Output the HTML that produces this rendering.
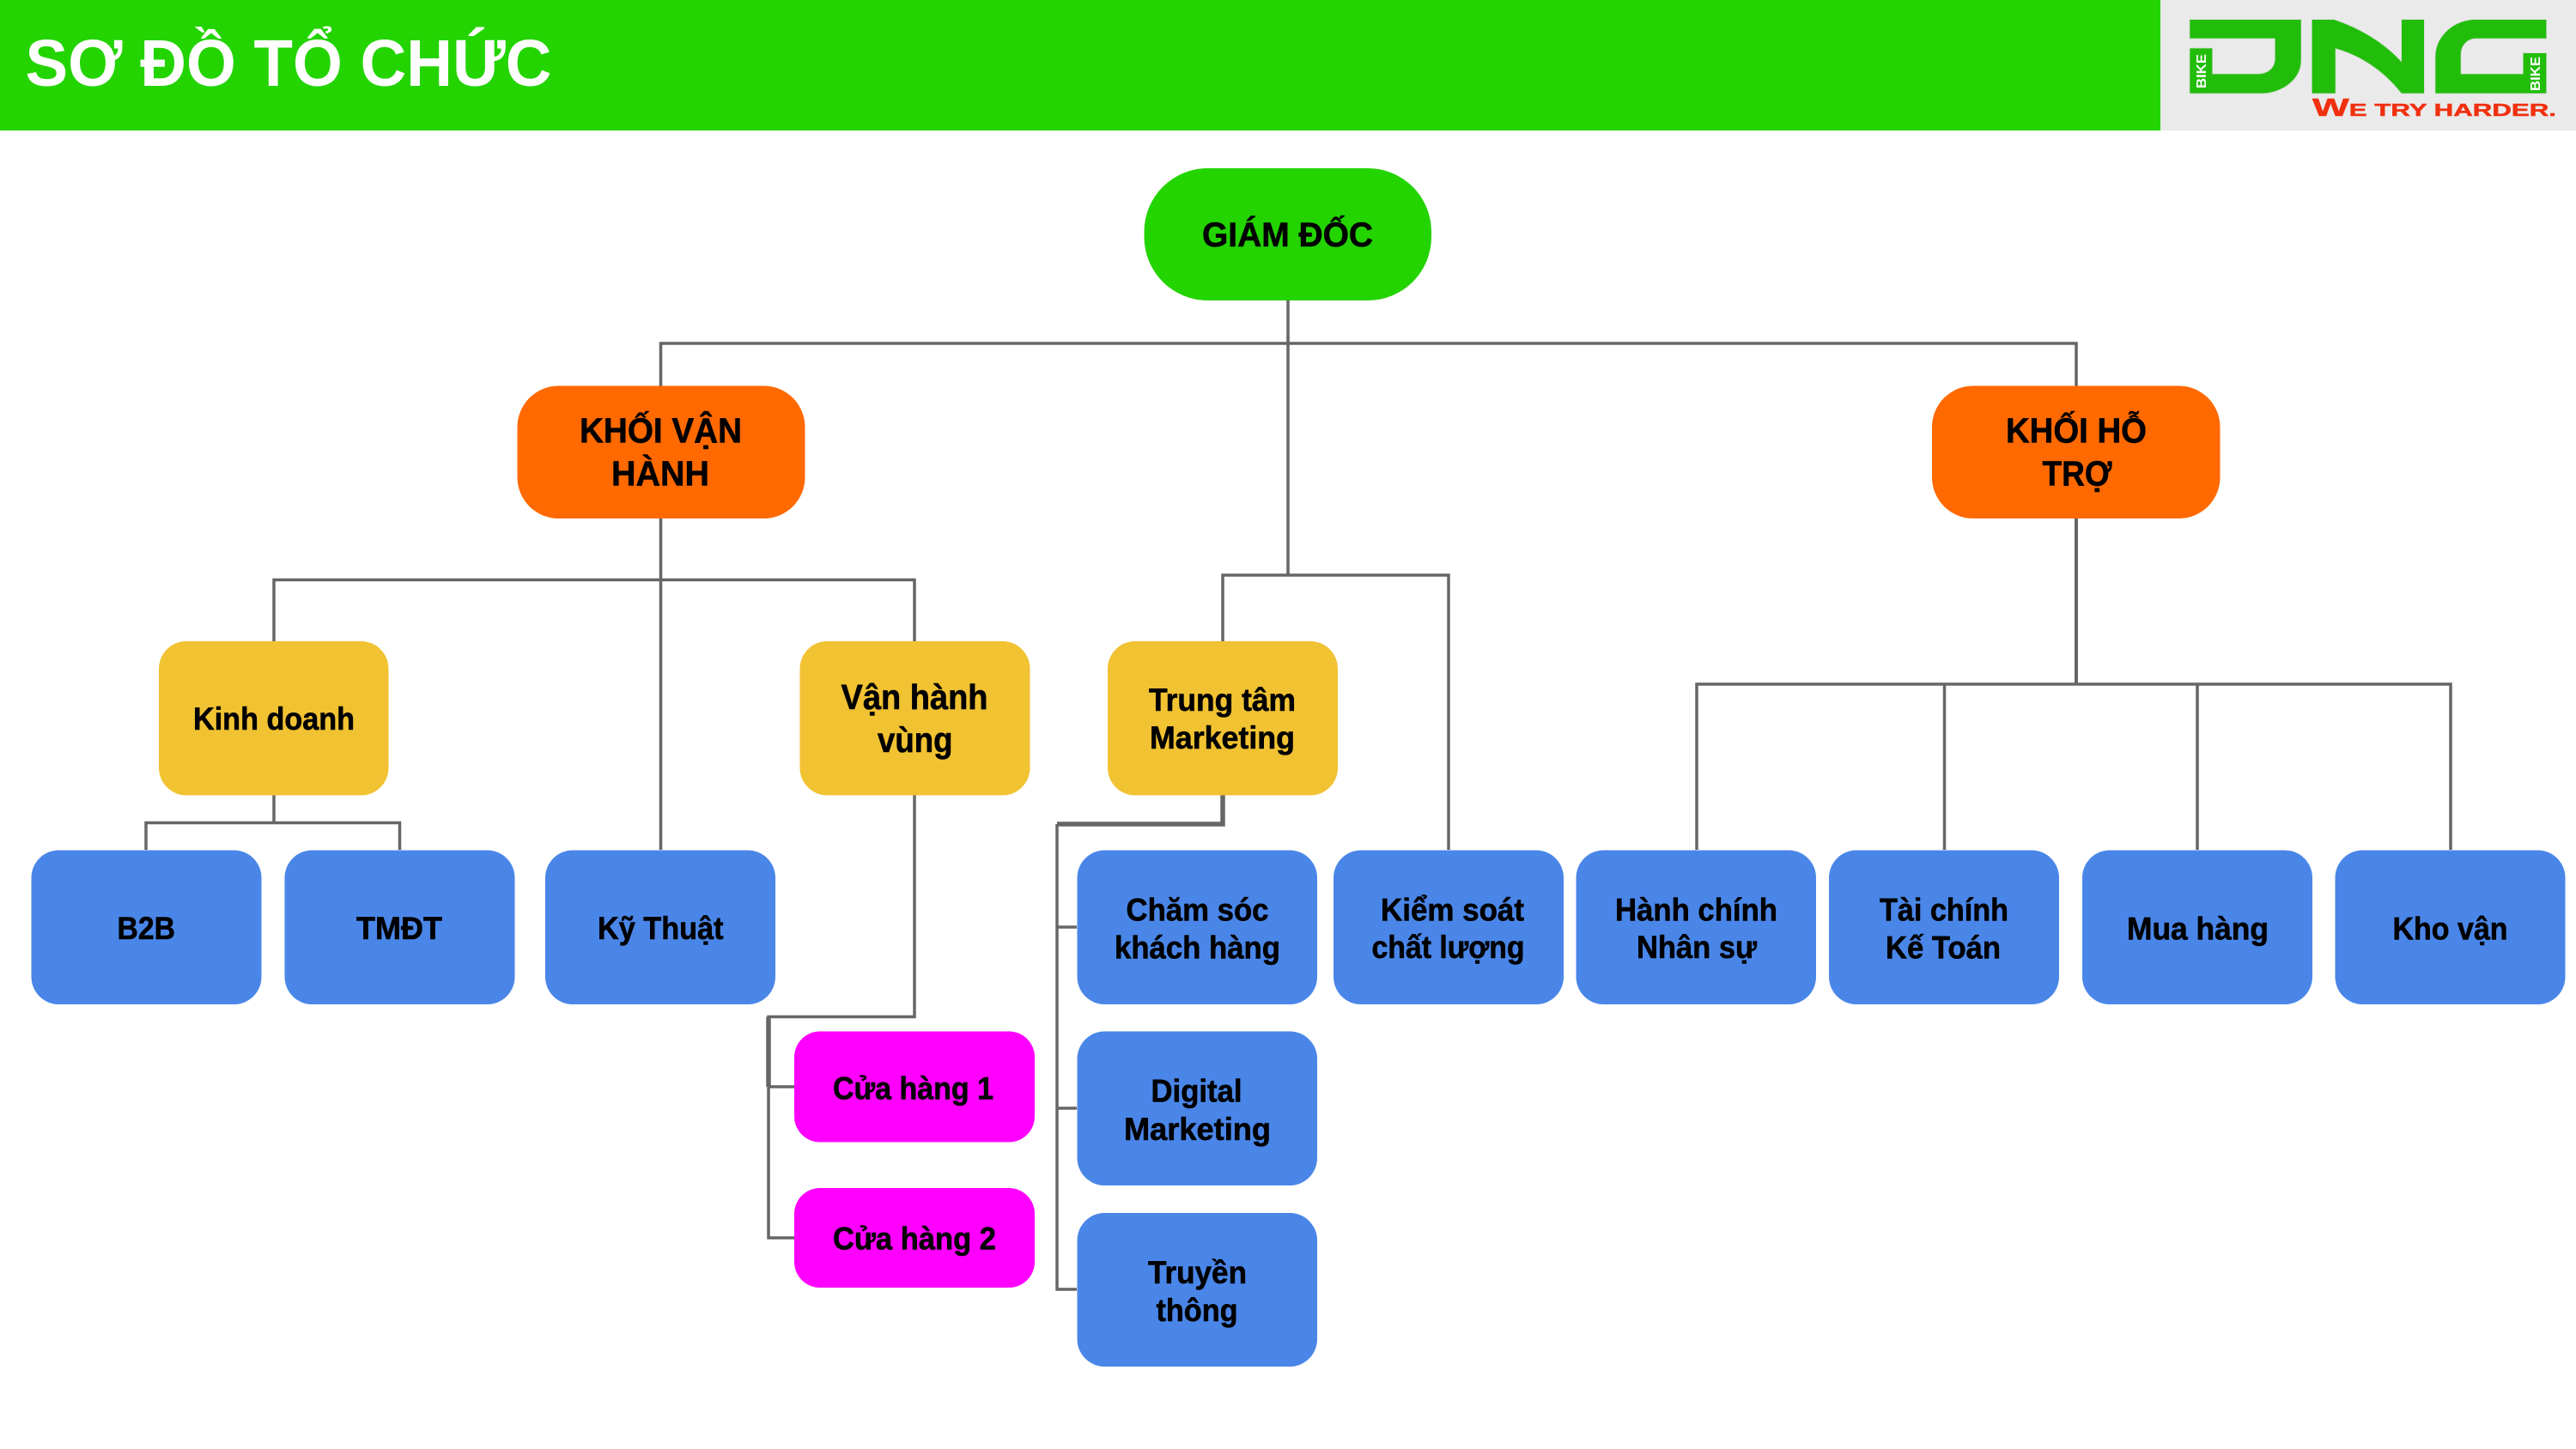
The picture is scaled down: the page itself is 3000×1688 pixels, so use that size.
<!DOCTYPE html>
<html lang="vi">
<head>
<meta charset="utf-8">
<title>Sơ đồ tổ chức</title>
<style>
html,body{margin:0;padding:0;background:#fff;width:3000px;height:1688px;overflow:hidden}
svg{display:block}
text{font-family:"Liberation Sans",sans-serif;font-weight:700;fill:#000;font-size:37px}
.n text{stroke:#000;stroke-width:.6}
.l{fill:none;stroke:#666;stroke-width:3.5}
.t{stroke:#666;stroke-width:5.5;fill:none}
</style>
</head>
<body>
<svg xmlns="http://www.w3.org/2000/svg" width="3000" height="1688" viewBox="0 0 3000 1688">
<rect width="3000" height="1688" fill="#fff"/>
<rect x="0" y="0" width="2516" height="152" fill="#23d401"/>
<rect x="2516" y="0" width="484" height="152" fill="#eaeaea"/>
<text x="29.500" y="100" textLength="613" lengthAdjust="spacingAndGlyphs" style="font-size:77px;fill:#fff">SƠ ĐỒ TỔ CHỨC</text>

<!-- logo -->
<g transform="translate(2500,0) scale(0.33333)" fill="#22bd0b" stroke="#cfd8cf" stroke-width="2">
<path d="M150 68H540V210C540 280 470 327 400 327H150V168H230V258H390C425 258 448 235 448 205V135H150Z"/>
<path d="M577 68H655C750 100 830 150 890 215V68H970V327H890C830 250 750 195 660 170V327H577Z"/>
<path d="M1397 68H1140C1060 75 1008 135 1008 200V327H1397V185H1315V258H1098V190C1098 160 1120 135 1150 135H1397Z"/>
</g>
<text transform="translate(2569,103) rotate(-90)" textLength="40" lengthAdjust="spacingAndGlyphs" style="font-size:16px;fill:#fff">BIKE</text>
<text transform="translate(2958,106) rotate(-90)" textLength="40" lengthAdjust="spacingAndGlyphs" style="font-size:16px;fill:#fff">BIKE</text>
<text x="2693" y="135" textLength="284" lengthAdjust="spacingAndGlyphs" style="font-size:20px;fill:#f0300f;stroke:#f0300f;stroke-width:.5"><tspan style="font-size:29px">W</tspan>E TRY HARDER.</text>

<!-- connectors -->
<path class="l" d="M1500 350V670"/>
<path class="l" d="M769.5 450V400H2418V450"/>
<path class="l" d="M1424 747V670H1687V990"/>
<path class="l" d="M769.5 604V990"/>
<path class="l" d="M319 747V675.5H1065V747"/>
<path class="l" d="M319 926V958.5"/>
<path class="l" d="M170 990V958.5H465.5V990"/>
<path class="l" d="M1065 926V1184.5H895V1442H925"/>
<path class="t" d="M895 1184.5V1266"/>
<path class="l" d="M895 1266H925"/>
<path class="t" d="M1424 926V960H1231"/>
<path class="l" d="M1231 960V1502H1254"/>
<path class="l" d="M1231 1080H1254M1231 1291H1254"/>
<path class="t" d="M2418 604V797" style="stroke-width:4"/>
<path class="l" d="M1976 990V797H2854V990"/>
<path class="l" d="M2264.5 797V990M2559 797V990"/>

<!-- nodes -->
<rect x="1332.500" y="196" width="334.500" height="154" rx="74" fill="#23d401"/>
<rect x="602.5" y="449.5" width="335" height="154.500" rx="48" fill="#ff6900"/>
<rect x="2250" y="449.500" width="335.500" height="154.500" rx="48" fill="#ff6900"/>

<rect x="185" y="747" width="267.500" height="179.500" rx="32" fill="#f1c232"/>
<rect x="931.500" y="747" width="268" height="179.500" rx="32" fill="#f1c232"/>
<rect x="1290" y="747" width="268" height="179.500" rx="32" fill="#f1c232"/>

<g fill="#4a86e8">
<rect x="36.500" y="990.500" width="268" height="179.500" rx="32"/>
<rect x="331.500" y="990.500" width="268" height="179.500" rx="32"/>
<rect x="635" y="990.500" width="268" height="179.500" rx="32"/>
<rect x="1254.500" y="990.500" width="279.500" height="179.500" rx="32"/>
<rect x="1254.500" y="1201.500" width="279.500" height="179.500" rx="32"/>
<rect x="1254.500" y="1413" width="279.500" height="179" rx="32"/>
<rect x="1553" y="990.500" width="268" height="179.500" rx="32"/>
<rect x="1835.500" y="990.500" width="279.500" height="179.500" rx="32"/>
<rect x="2130" y="990.500" width="268" height="179.500" rx="32"/>
<rect x="2425" y="990.500" width="268" height="179.500" rx="32"/>
<rect x="2719.500" y="990.500" width="268" height="179.500" rx="32"/>
</g>
<rect x="925" y="1201.500" width="280" height="129" rx="30" fill="#ff00ff"/>
<rect x="925" y="1384" width="280" height="116" rx="30" fill="#ff00ff"/>

<!-- labels -->
<g class="n">
<text x="1400" y="287" textLength="199" lengthAdjust="spacingAndGlyphs" style="font-size:40px">GIÁM ĐỐC</text>
<text x="675" y="515.500" textLength="189" lengthAdjust="spacingAndGlyphs" style="font-size:41px">KHỐI VẬN</text>
<text x="712" y="565.500" textLength="114" lengthAdjust="spacingAndGlyphs" style="font-size:41px">HÀNH</text>
<text x="2336" y="515.500" textLength="164" lengthAdjust="spacingAndGlyphs" style="font-size:41px">KHỐI HỖ</text>
<text x="2378.500" y="565.500" textLength="81" lengthAdjust="spacingAndGlyphs" style="font-size:41px">TRỢ</text>

<text x="225" y="850" textLength="188" lengthAdjust="spacingAndGlyphs">Kinh doanh</text>
<text x="979.500" y="826" textLength="171" lengthAdjust="spacingAndGlyphs" style="font-size:41px">Vận hành</text>
<text x="1022" y="876" textLength="87.500" lengthAdjust="spacingAndGlyphs" style="font-size:41px">vùng</text>
<text x="1338" y="828" textLength="171" lengthAdjust="spacingAndGlyphs">Trung tâm</text>
<text x="1339" y="872" textLength="169" lengthAdjust="spacingAndGlyphs">Marketing</text>

<text x="136.500" y="1094" textLength="67.500" lengthAdjust="spacingAndGlyphs">B2B</text>
<text x="415" y="1094" textLength="100" lengthAdjust="spacingAndGlyphs">TMĐT</text>
<text x="696" y="1094" textLength="146.500" lengthAdjust="spacingAndGlyphs">Kỹ Thuật</text>

<text x="1311.500" y="1072.500" textLength="166" lengthAdjust="spacingAndGlyphs">Chăm sóc</text>
<text x="1298" y="1116.500" textLength="193" lengthAdjust="spacingAndGlyphs">khách hàng</text>
<text x="1340.500" y="1283.500" textLength="106" lengthAdjust="spacingAndGlyphs">Digital</text>
<text x="1309" y="1328" textLength="171" lengthAdjust="spacingAndGlyphs">Marketing</text>
<text x="1337" y="1495" textLength="115" lengthAdjust="spacingAndGlyphs">Truyền</text>
<text x="1346.500" y="1539" textLength="95" lengthAdjust="spacingAndGlyphs">thông</text>

<text x="970" y="1280.500" textLength="187" lengthAdjust="spacingAndGlyphs">Cửa hàng 1</text>
<text x="970" y="1455.500" textLength="190" lengthAdjust="spacingAndGlyphs">Cửa hàng 2</text>

<text x="1608" y="1072.500" textLength="167" lengthAdjust="spacingAndGlyphs">Kiểm soát</text>
<text x="1597.500" y="1116" textLength="178" lengthAdjust="spacingAndGlyphs">chất lượng</text>
<text x="1881" y="1072.500" textLength="189" lengthAdjust="spacingAndGlyphs">Hành chính</text>
<text x="1906" y="1116" textLength="140" lengthAdjust="spacingAndGlyphs">Nhân sự</text>
<text x="2189" y="1072.500" textLength="150" lengthAdjust="spacingAndGlyphs">Tài chính</text>
<text x="2196" y="1116.500" textLength="134" lengthAdjust="spacingAndGlyphs">Kế Toán</text>
<text x="2477" y="1094.500" textLength="165" lengthAdjust="spacingAndGlyphs">Mua hàng</text>
<text x="2786.500" y="1094.500" textLength="134" lengthAdjust="spacingAndGlyphs">Kho vận</text>
</g>
</svg>
</body>
</html>
